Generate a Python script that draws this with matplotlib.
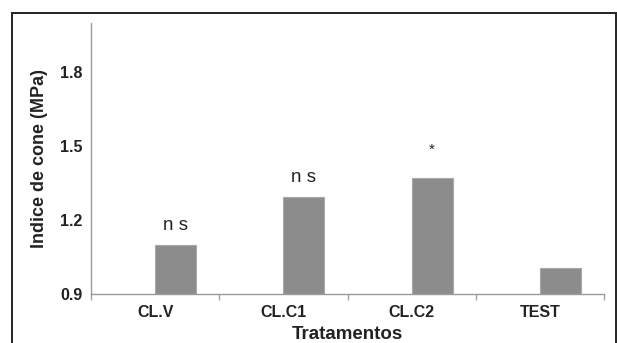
import matplotlib
matplotlib.use("Agg")
import matplotlib.pyplot as plt
from matplotlib.patches import Rectangle
import numpy as np

categories = ["CL.V", "CL.C1", "CL.C2", "TEST"]
values = [1.10, 1.295, 1.37, 1.005]
marks = ["n s", "n s", "*", ""]
yticks = [0.9, 1.2, 1.5, 1.8]

plt.rcParams['font.family'] = ['Liberation Sans', 'DejaVu Sans']

fig = plt.figure(figsize=(6.17, 3.43), dpi=100)
ax = fig.add_axes([91/617, 1-294/343, (604-91)/617, (294-23)/343])

x = np.arange(len(categories))
bars = ax.bar(x, [v - 0.9 for v in values], bottom=0.9, width=0.32, align='edge',
              color='#8c8c8c', edgecolor='#a8a8a8', linewidth=0.8, zorder=2)

for xi, v, m in zip(x, values, marks):
    if not m:
        continue
    if m == "*":
        ax.text(xi + 0.16, v + 0.115, m, ha='center', va='center', fontsize=11, color='#222222')
    else:
        ax.text(xi + 0.16, v + 0.06, m, ha='center', va='baseline', fontsize=13.5, color='#222222')

ax.set_xlim(-0.5, len(categories) - 0.5)
ax.set_ylim(0.9, 2.0)
ax.set_yticks(yticks)
ax.set_yticklabels([f"{t:.1f}" for t in yticks], fontsize=11.5, fontweight='bold', color='#222222')
ax.set_xticks(x)
ax.set_xticklabels(categories, fontsize=11.5, fontweight='bold', color='#222222')
ax.set_xticks(np.arange(len(categories) + 1) - 0.5, minor=True)
ax.tick_params(axis='x', which='major', length=0, pad=8)
ax.tick_params(axis='x', which='minor', length=4, width=0.9, color='#999999', direction='out')
ax.tick_params(axis='y', length=0, pad=6)

for s in ['top', 'right']:
    ax.spines[s].set_visible(False)
for s in ['left', 'bottom']:
    ax.spines[s].set_color('#9a9a9a')
    ax.spines[s].set_linewidth(1.0)

ax.set_xlabel("Tratamentos", fontsize=13.5, fontweight='bold', color='#222222', labelpad=4.5)
ax.set_ylabel("Indice de cone (MPa)", fontsize=13, fontweight='bold', color='#222222', labelpad=9)

frame = Rectangle((12/617, -0.1), (616-12)/617, 1.1 - 13/343, transform=fig.transFigure,
                  fill=False, edgecolor='#222222', linewidth=1.4, clip_on=False)
fig.patches.append(frame)

fig.savefig("out.png", dpi=100)
